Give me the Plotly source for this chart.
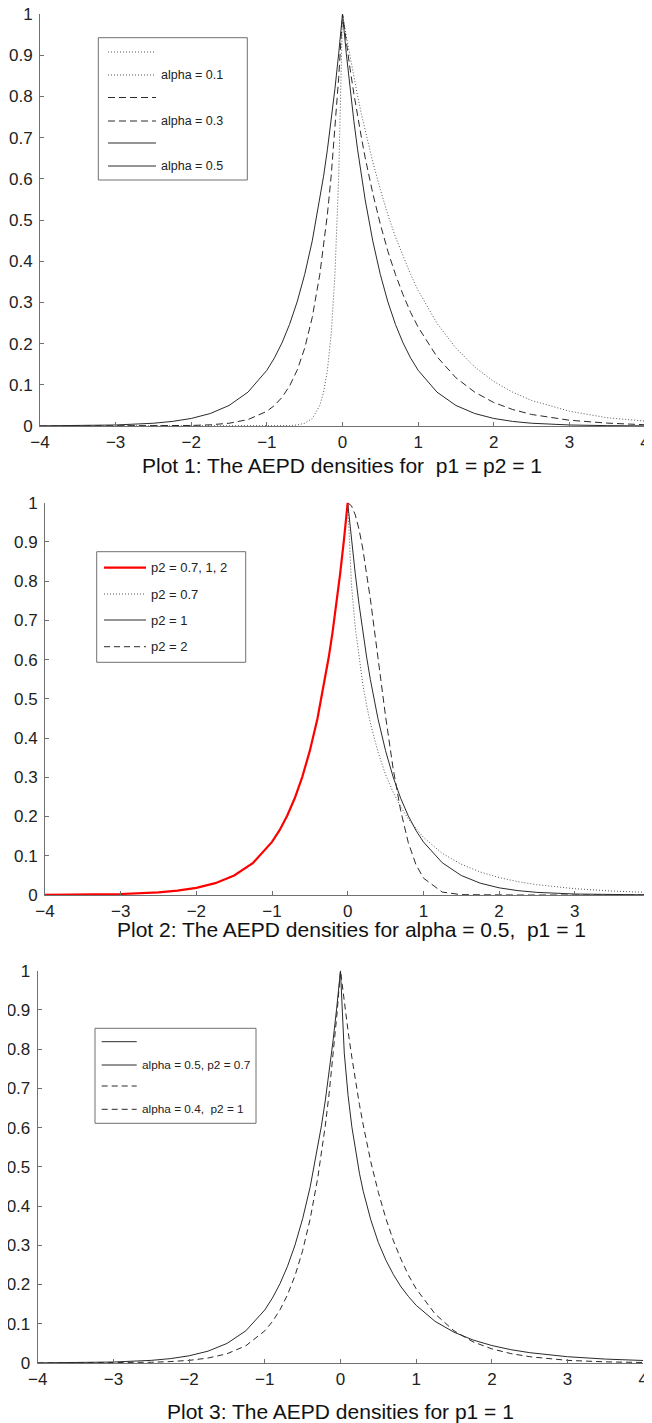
# AEPD densities - three stacked panels - plotly
import plotly.graph_objects as go
from plotly.subplots import make_subplots

# the page body has an 8px margin, so the figure is drawn at (8, 8)
OFF = 8
W, H = 652 - OFF, 1423 - OFF

# x grid, left half and right half (shared by all panels)
x_neg = [-4, -3.5, -3, -2.5, -2.25, -2, -1.75, -1.5, -1.25, -1, -0.9, -0.8, -0.7, -0.6,
         -0.5, -0.4, -0.3, -0.25, -0.2, -0.15, -0.1, -0.05, 0]
x_pos = [0, 0.05, 0.1, 0.15, 0.2, 0.25, 0.3, 0.4, 0.5, 0.6, 0.7, 0.8, 0.9, 1,
         1.25, 1.5, 1.75, 2, 2.25, 2.5, 3, 3.5, 4]
x_all = x_neg + x_pos[1:]

# Plot 1: p1 = p2 = 1 (over x_all)
p1_alpha01 = [0, 0, 0, 0, 0, 0, 0, 0, 0, 0, 0, 0.0003, 0.0009, 0.0025, 0.0067, 0.018, 0.050,
              0.082, 0.135, 0.223, 0.368, 0.607, 1,
              0.946, 0.895, 0.846, 0.801, 0.757, 0.717, 0.641, 0.574, 0.513, 0.459, 0.411,
              0.368, 0.329, 0.249, 0.189, 0.143, 0.108, 0.082, 0.062, 0.036, 0.020, 0.012]
p1_alpha03 = [0, 0, 0, 0.0002, 0.0006, 0.0013, 0.0029, 0.0067, 0.0155, 0.0357, 0.0498, 0.0695,
              0.097, 0.1353, 0.1889, 0.2636, 0.3679, 0.4346, 0.5134, 0.6065, 0.7165, 0.8465, 1,
              0.931, 0.867, 0.807, 0.751, 0.700, 0.651, 0.565, 0.490, 0.424, 0.368, 0.319,
              0.276, 0.240, 0.168, 0.117, 0.082, 0.057, 0.040, 0.028, 0.014, 0.007, 0.003]
p1_alpha05 = [0.0003, 0.0009, 0.0025, 0.0067, 0.0111, 0.0183, 0.0302, 0.0498, 0.0821, 0.1353,
              0.1653, 0.2019, 0.2466, 0.3012, 0.3679, 0.4493, 0.5488, 0.6065, 0.6703, 0.7408,
              0.8187, 0.9048, 1,
              0.9048, 0.8187, 0.7408, 0.6703, 0.6065, 0.5488, 0.4493, 0.3679, 0.3012, 0.2466,
              0.2019, 0.1653, 0.1353, 0.0821, 0.0498, 0.0302, 0.0183, 0.0111, 0.0067, 0.0025,
              0.0009, 0.0003]

# Plot 2: alpha = 0.5, p1 = 1 (common left half over x_neg, right halves over x_pos)
p2_left = [0.0003, 0.0009, 0.0025, 0.0067, 0.0111, 0.0183, 0.0302, 0.0498, 0.0821, 0.1353,
           0.1653, 0.2019, 0.2466, 0.3012, 0.3679, 0.4493, 0.5488, 0.6065, 0.6703, 0.7408,
           0.8187, 0.9048, 1]
p2_07 = [1, 0.790, 0.682, 0.602, 0.537, 0.484, 0.438, 0.365, 0.307, 0.262, 0.225, 0.194,
         0.169, 0.147, 0.106, 0.0785, 0.0587, 0.0445, 0.034, 0.0263, 0.016, 0.010, 0.0064]
p2_1 = [1, 0.9048, 0.8187, 0.7408, 0.6703, 0.6065, 0.5488, 0.4493, 0.3679, 0.3012, 0.2466,
        0.2019, 0.1653, 0.1353, 0.0821, 0.0498, 0.0302, 0.0183, 0.0111, 0.0067, 0.0025,
        0.0009, 0.0003]
p2_2 = [1, 0.992, 0.969, 0.932, 0.882, 0.822, 0.754, 0.605, 0.456, 0.323, 0.215, 0.134,
        0.0785, 0.0432, 0.0074, 0.0009, 0.0001, 0, 0, 0, 0, 0, 0]

# Plot 3: p1 = 1 (over x_all)
p3_a05_p07 = [0.0003, 0.0009, 0.0025, 0.0067, 0.0111, 0.0183, 0.0302, 0.0498, 0.0821, 0.1353,
              0.1653, 0.2019, 0.2466, 0.3012, 0.3679, 0.4493, 0.5488, 0.6065, 0.6703, 0.7408,
              0.8187, 0.9048, 1,
              0.790, 0.682, 0.602, 0.537, 0.484, 0.438, 0.365, 0.307, 0.262, 0.225, 0.194,
              0.169, 0.147, 0.106, 0.0785, 0.0587, 0.0445, 0.034, 0.0263, 0.016, 0.010, 0.0064]
p3_a04_p1 = [0, 0.0002, 0.0006, 0.0019, 0.0036, 0.0067, 0.0126, 0.0235, 0.0439, 0.0821, 0.1054,
             0.1353, 0.1738, 0.2231, 0.2865, 0.3679, 0.4724, 0.5353, 0.6065, 0.6873, 0.7788,
             0.8825, 1,
             0.920, 0.846, 0.779, 0.717, 0.659, 0.607, 0.513, 0.435, 0.368, 0.311, 0.264,
             0.223, 0.189, 0.125, 0.082, 0.054, 0.036, 0.024, 0.016, 0.0067, 0.0029, 0.0013]

# tick labels
x_ticks = [-4, -3, -2, -1, 0, 1, 2, 3, 4]
x_ticklabels = ["\u22124", "\u22123", "\u22122", "\u22121", "0", "1", "2", "3", "4"]
y_ticks = [0, 0.1, 0.2, 0.3, 0.4, 0.5, 0.6, 0.7, 0.8, 0.9, 1]
y_ticklabels = ["0", "0.1", "0.2", "0.3", "0.4", "0.5", "0.6", "0.7", "0.8", "0.9", "1"]

titles = ["Plot 1: The AEPD densities for  p1 = p2 = 1",
          "Plot 2: The AEPD densities for alpha = 0.5,  p1 = 1",
          "Plot 3: The AEPD densities for p1 = 1"]

FONT = "Liberation Sans, Arial, Helvetica, sans-serif"
AX = "#707070"
INK = "#2a2a2a"
DOT = "1px,2px"
DASH = "7px,4px"

# panel boxes in window pixels (left, right, top, bottom)
panels = [(40, 645, 14, 426), (45, 650.4, 502.7, 895), (37.7, 643.3, 970.7, 1363)]


def px(x, y):
  # window pixel -> paper coordinates
  return (x - OFF) / W, 1 - (y - OFF) / H


fig = make_subplots(rows=3, cols=1)

# plot 1
fig.add_trace(go.Scatter(x=x_all, y=p1_alpha01, mode="lines",
                         line=dict(color="#555", width=1, dash=DOT)), row=1, col=1)
fig.add_trace(go.Scatter(x=x_all, y=p1_alpha03, mode="lines",
                         line=dict(color=INK, width=1, dash=DASH)), row=1, col=1)
fig.add_trace(go.Scatter(x=x_all, y=p1_alpha05, mode="lines",
                         line=dict(color=INK, width=1)), row=1, col=1)
# plot 2
fig.add_trace(go.Scatter(x=x_pos, y=p2_07, mode="lines",
                         line=dict(color="#555", width=1, dash=DOT)), row=2, col=1)
fig.add_trace(go.Scatter(x=x_pos, y=p2_1, mode="lines",
                         line=dict(color=INK, width=1)), row=2, col=1)
fig.add_trace(go.Scatter(x=x_pos, y=p2_2, mode="lines",
                         line=dict(color=INK, width=1, dash=DASH)), row=2, col=1)
fig.add_trace(go.Scatter(x=x_neg, y=p2_left, mode="lines",
                         line=dict(color="#ff0000", width=2.2)), row=2, col=1)
# plot 3
fig.add_trace(go.Scatter(x=x_all, y=p3_a05_p07, mode="lines",
                         line=dict(color=INK, width=1)), row=3, col=1)
fig.add_trace(go.Scatter(x=x_all, y=p3_a04_p1, mode="lines",
                         line=dict(color=INK, width=1, dash="6px,4px")), row=3, col=1)

# axes
for i, (l, r, t, b) in enumerate(panels):
  n = "" if i == 0 else str(i + 1)
  x0, y0 = px(l, b)
  x1, y1 = px(r, t)
  fig.layout["xaxis" + n].domain = [x0, x1]
  fig.layout["yaxis" + n].domain = [y0, y1]

fig.update_xaxes(range=[-4, 4], tickvals=x_ticks, ticktext=x_ticklabels, automargin=False,
                 ticks="inside", ticklen=4, tickcolor=AX, showline=True, linecolor=AX,
                 linewidth=1, showgrid=False, zeroline=False, ticklabelstandoff=1,
                 ticklabeloverflow="allow",
                 tickfont=dict(family=FONT, size=17, color="#222"))
fig.update_yaxes(range=[0, 1], tickvals=y_ticks, ticktext=y_ticklabels, automargin=False,
                 ticks="inside", ticklen=4, tickcolor=AX, showline=True, linecolor=AX,
                 linewidth=1, showgrid=False, zeroline=False, ticklabelstandoff=3,
                 ticklabeloverflow="allow",
                 tickfont=dict(family=FONT, size=17, color="#222"))

# titles under each panel (pixel centre)
title_pos = [(342, 466), (351, 929), (341, 1411)]
for txt, (tx, ty) in zip(titles, title_pos):
  x, y = px(tx, ty)
  fig.add_annotation(xref="paper", yref="paper", x=x, y=y, text=txt, showarrow=False,
                     xanchor="center", yanchor="middle",
                     font=dict(family=FONT, size=21, color="#111"))


# legends drawn as boxes (MATLAB style, with the empty entries)
def legend(box, line_x, text_x, rows, fsize):
  x0, y0 = px(box[0], box[1])
  x1, y1 = px(box[2], box[3])
  fig.add_shape(type="rect", xref="paper", yref="paper", x0=x0, y0=y1, x1=x1, y1=y0,
                line=dict(color=AX, width=1), fillcolor="white", layer="above")
  for ry, color, width, dash, label in rows:
    a, yy = px(line_x[0], ry)
    c, _ = px(line_x[1], ry)
    fig.add_shape(type="line", xref="paper", yref="paper", x0=a, y0=yy, x1=c, y1=yy,
                  line=dict(color=color, width=width, dash=dash), layer="above")
    if label:
      tx, _ = px(text_x, ry)
      fig.add_annotation(xref="paper", yref="paper", x=tx, y=yy, text=label,
                         showarrow=False, xanchor="left", yanchor="middle",
                         font=dict(family=FONT, size=fsize, color="#222"))


legend((98.3, 37.7, 247.3, 180), (108, 156), 159,
       [(52, "#555", 1, DOT, ""),
        (75, "#555", 1, DOT, "alpha = 0.1"),
        (97.5, INK, 1, DASH, ""),
        (121, INK, 1, DASH, "alpha = 0.3"),
        (143, INK, 1, "solid", ""),
        (166, INK, 1, "solid", "alpha = 0.5")], 12.5)
legend((96.7, 551.7, 245.7, 662.3), (104, 146), 149,
       [(567.7, "#ff0000", 2.2, "solid", "p2 = 0.7, 1, 2"),
        (594, "#555", 1, DOT, "p2 = 0.7"),
        (620, INK, 1, "solid", "p2 = 1"),
        (646.7, INK, 1, "6px,4px", "p2 = 2")], 13)
legend((95, 1028.3, 256, 1123.3), (101.7, 136.7), 140,
       [(1041.7, INK, 1, "solid", ""),
        (1065, INK, 1, "solid", "alpha = 0.5, p2 = 0.7"),
        (1086, INK, 1, "6px,4px", ""),
        (1109.3, INK, 1, "6px,4px", "alpha = 0.4,  p2 = 1")], 11.8)

fig.update_layout(width=W, height=H, margin=dict(l=0, r=0, t=0, b=0),
                  paper_bgcolor="white", plot_bgcolor="white", showlegend=False)

fig.write_html("out.html")
